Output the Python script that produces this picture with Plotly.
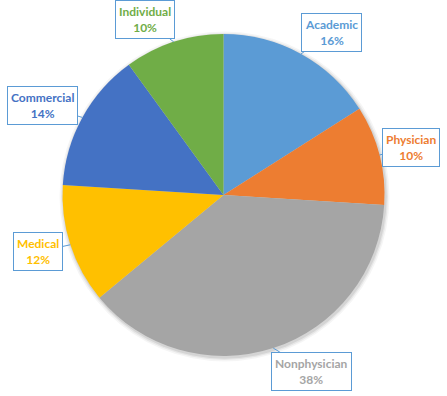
import math
import plotly.graph_objects as go

categories = ["Academic", "Physician", "Nonphysician", "Medical", "Commercial", "Individual"]
values = [16, 10, 38, 12, 14, 10]
colors = ["#5B9BD5", "#ED7D31", "#A5A5A5", "#FFC000", "#4472C4", "#70AD47"]
text_colors = ["#5B9BD5", "#ED7D31", "#A5A5A5", "#FFC000", "#4472C4", "#70AD47"]
# label box offsets (pixels) from the slice edge tip
label_dx = [30, 32, 38, -32, -40, -29]
label_dy = [-21, -7, 23, 7, -12, -22]

W, H = 447, 396
cx_px, cy_px, r_px = 223.5, 195, 161

fig = go.Figure()
fig.add_trace(go.Pie(
    labels=categories, values=values, sort=False, direction="clockwise",
    rotation=0, marker=dict(colors=colors, line=dict(color="white", width=0)),
    textinfo="none", hoverinfo="label+percent", showlegend=False,
    domain=dict(x=[(cx_px - r_px) / W, (cx_px + r_px) / W],
                y=[1 - (cy_px + r_px) / H, 1 - (cy_px - r_px) / H]),
))

# soft shadow
for grow, op in [(4, 0.04), (2.5, 0.06), (1.2, 0.08)]:
    fig.add_shape(type="circle", xref="paper", yref="paper", layer="below",
                  x0=(cx_px - r_px - grow + 1) / W, x1=(cx_px + r_px + grow + 1) / W,
                  y0=1 - (cy_px + r_px + grow + 1.5) / H, y1=1 - (cy_px - r_px - grow + 1.5) / H,
                  fillcolor=f"rgba(0,0,0,{op})", line=dict(width=0))

total = sum(values)
cum = 0
annotations = []
for cat, v, tc, dx, dy in zip(categories, values, text_colors, label_dx, label_dy):
    mid = (cum + v / 2) / total * 2 * math.pi
    cum += v
    tx = cx_px + r_px * math.sin(mid)
    ty = cy_px - r_px * math.cos(mid)
    pct = round(v / total * 100)
    annotations.append(dict(
        x=tx / W, y=1 - ty / H, xref="paper", yref="paper",
        ax=dx, ay=dy, showarrow=True, arrowhead=0, arrowwidth=1,
        arrowcolor="#5B9BD5", standoff=0,
        text=f"<b>{cat}</b><br><b>{pct}%</b>",
        font=dict(family="Lato, Calibri, sans-serif", size=12, color=tc),
        bgcolor="white", bordercolor="#5B9BD5", borderwidth=1, borderpad=3,
        align="center",
    ))

fig.update_layout(width=W, height=H, margin=dict(l=0, r=0, t=0, b=0),
                  paper_bgcolor="white", plot_bgcolor="white",
                  annotations=annotations)
fig.write_html("out.html", config={"displayModeBar": False},
               post_script="document.body.style.margin='0';")
